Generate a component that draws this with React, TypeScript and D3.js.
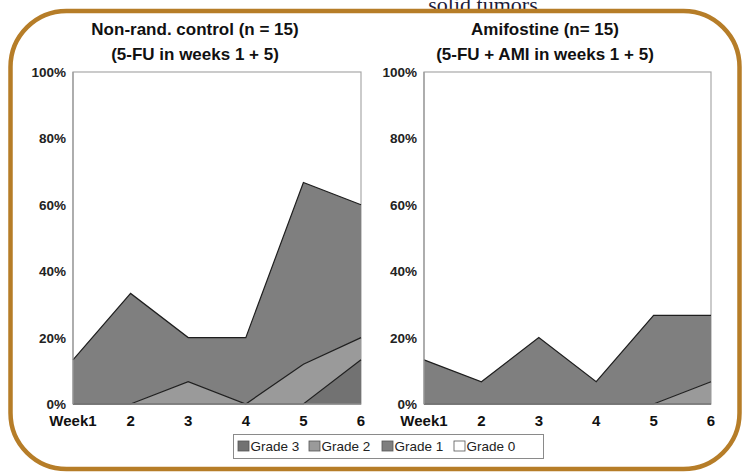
import React from "react";
import * as d3 from "d3";

const weeks = ["Week1", "2", "3", "4", "5", "6"];
const gradeKeys = ["Grade 3", "Grade 2", "Grade 1"];
const legendLabels = ["Grade 3", "Grade 2", "Grade 1", "Grade 0"];
const yTicks = [0, 20, 40, 60, 80, 100];

const controlGrade3 = [0, 0, 0, 0, 0, 13.3];
const controlGrade2 = [0, 0, 6.7, 0, 12, 6.7];
const controlGrade1 = [13.3, 33.3, 13.3, 20, 54.7, 40];

const amiGrade3 = [0, 0, 0, 0, 0, 0];
const amiGrade2 = [0, 0, 0, 0, 0, 6.7];
const amiGrade1 = [13.3, 6.7, 20, 6.7, 26.7, 20];

const controlTitle = ["Non-rand. control (n = 15)", "(5-FU in weeks 1 + 5)"];
const amiTitle = ["Amifostine (n= 15)", "(5-FU + AMI in weeks 1 + 5)"];

const colors: Record<string, string> = {
  "Grade 3": "#727272",
  "Grade 2": "#9a9a9a",
  "Grade 1": "#7f7f7f",
  "Grade 0": "#ffffff",
};

const FONT = "'Liberation Sans', Arial, sans-serif";

function Panel({ x0, x1, g3, g2, g1, title, titleX }: any) {
  const yTop = 72;
  const yBot = 404;
  const x = d3.scalePoint<string>().domain(weeks).range([x0, x1]);
  const y = d3.scaleLinear().domain([0, 100]).range([yBot, yTop]);
  const rows = weeks.map((w, i) => ({ week: w, "Grade 3": g3[i], "Grade 2": g2[i], "Grade 1": g1[i] }));
  const series = d3.stack<any>().keys(gradeKeys)(rows);
  const area = d3
    .area<any>()
    .x((d) => x(d.data.week)!)
    .y0((d) => y(d[0]))
    .y1((d) => y(d[1]));
  const line = d3
    .line<any>()
    .x((d) => x(d.data.week)!)
    .y((d) => y(d[1]));
  return (
    <g>
      <rect x={x0} y={yTop} width={x1 - x0} height={yBot - yTop} fill="#fff" stroke="#a8a8a8" strokeWidth={1.2} />
      {series.map((s) => (
        <path key={s.key + "a"} d={area(s as any)!} fill={colors[s.key]} stroke="none" />
      ))}
      {series.map((s) => (
        <path key={s.key + "l"} d={line(s as any)!} fill="none" stroke="#1e1e1e" strokeWidth={1.2} />
      ))}
      <line x1={x0} x2={x1} y1={yBot} y2={yBot} stroke="#8a8a8a" strokeWidth={1.5} />
      <line x1={x0} x2={x0} y1={yTop} y2={yBot} stroke="#9a9a9a" strokeWidth={1.2} />
      {yTicks.map((t) => (
        <text
          key={t}
          x={x0 - 7}
          y={y(t) + 5}
          textAnchor="end"
          fontFamily={FONT}
          fontWeight="bold"
          fontSize={13.5}
          fill="#222"
        >
          {t}%
        </text>
      ))}
      {weeks.map((w) => (
        <text
          key={w}
          x={x(w)!}
          y={426}
          textAnchor="middle"
          fontFamily={FONT}
          fontWeight="bold"
          fontSize={15}
          fill="#111"
        >
          {w}
        </text>
      ))}
      {title.map((t: string, i: number) => (
        <text
          key={i}
          x={titleX}
          y={35 + i * 24.5}
          textAnchor="middle"
          fontFamily={FONT}
          fontWeight="bold"
          fontSize={17}
          fill="#111"
        >
          {t}
        </text>
      ))}
    </g>
  );
}

export default function App() {
  const legendX = [238, 309, 382, 454];
  return (
    <svg
      width={746}
      height={473}
      style={{ position: "absolute", left: 0, top: 0, background: "#fff" }}
    >
      <rect width={746} height={473} fill="#fff" />
      <text x={483} y={12} textAnchor="middle" fontFamily="'Liberation Serif', 'Times New Roman', serif" fontSize={22} fill="#1c1c3a">
        solid tumors
      </text>
      <rect x={10.5} y={11} width={729} height={458} rx={56} ry={56} fill="none" stroke="#b67d28" strokeWidth={4.5} />
      <Panel x0={73} x1={361} g3={controlGrade3} g2={controlGrade2} g1={controlGrade1} title={controlTitle} titleX={195} />
      <Panel x0={424} x1={711} g3={amiGrade3} g2={amiGrade2} g1={amiGrade1} title={amiTitle} titleX={545} />
      <rect x={233.5} y={434.5} width={310} height={24} fill="#fff" stroke="#8a8a8a" strokeWidth={1} />
      {legendLabels.map((l, i) => (
        <g key={l}>
          <rect x={legendX[i]} y={441} width={11} height={10} fill={colors[l]} stroke="#555" strokeWidth={0.8} />
          <text x={legendX[i] + 12.5} y={451} fontFamily={FONT} fontSize={13.5} fill="#222">
            {l}
          </text>
        </g>
      ))}
    </svg>
  );
}
